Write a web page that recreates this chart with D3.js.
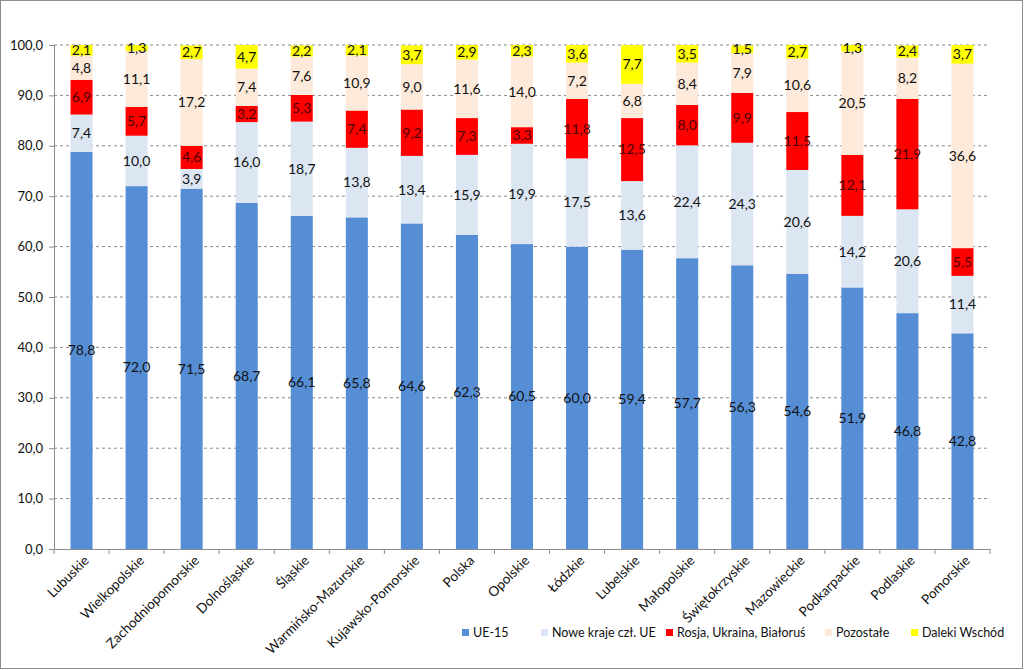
<!DOCTYPE html>
<html>
<head>
<meta charset="utf-8">
<script src="https://cdn.jsdelivr.net/npm/d3@7"></script>
<style>
  body { margin: 0; background: #fff; }
  svg { font-family: Lato, "Open Sans", sans-serif; }
</style>
</head>
<body>
<svg id="chart"></svg>
<script>
const categories = ['Lubuskie', 'Wielkopolskie', 'Zachodniopomorskie', 'Dolnośląskie', 'Śląskie',
  'Warmińsko-Mazurskie', 'Kujawsko-Pomorskie', 'Polska', 'Opolskie', 'Łódzkie', 'Lubelskie',
  'Małopolskie', 'Świętokrzyskie', 'Mazowieckie', 'Podkarpackie', 'Podlaskie', 'Pomorskie'];

const ue15 = [78.8, 72.0, 71.5, 68.7, 66.1, 65.8, 64.6, 62.3, 60.5, 60.0, 59.4, 57.7, 56.3, 54.6, 51.9, 46.8, 42.8];
const noweKraje = [7.4, 10.0, 3.9, 16.0, 18.7, 13.8, 13.4, 15.9, 19.9, 17.5, 13.6, 22.4, 24.3, 20.6, 14.2, 20.6, 11.4];
const rosja = [6.9, 5.7, 4.6, 3.2, 5.3, 7.4, 9.2, 7.3, 3.3, 11.8, 12.5, 8.0, 9.9, 11.5, 12.1, 21.9, 5.5];
const pozostale = [4.8, 11.1, 17.2, 7.4, 7.6, 10.9, 9.0, 11.6, 14.0, 7.2, 6.8, 8.4, 7.9, 10.6, 20.5, 8.2, 36.6];
const dalekiWschod = [2.1, 1.3, 2.7, 4.7, 2.2, 2.1, 3.7, 2.9, 2.3, 3.6, 7.7, 3.5, 1.5, 2.7, 1.3, 2.4, 3.7];

const seriesNames = ['UE-15', 'Nowe kraje czł. UE', 'Rosja, Ukraina, Białoruś', 'Pozostałe', 'Daleki Wschód'];
const yTicks = [0, 10, 20, 30, 40, 50, 60, 70, 80, 90, 100];

const seriesValues = [ue15, noweKraje, rosja, pozostale, dalekiWschod];
const colors = ['#558ed5', '#dce6f2', '#ff0000', '#fdeada', '#ffff00'];

const width = 1024, height = 670;
const margin = { left: 54, right: 34, top: 45, bottom: 121 };

const svg = d3.select('#chart').attr('width', width).attr('height', height);

// outer frame
svg.append('rect')
  .attr('x', 0.5).attr('y', 0.5)
  .attr('width', width - 2).attr('height', height - 2)
  .attr('fill', '#fff').attr('stroke', '#8c8c8c');

const x = d3.scaleBand()
  .domain(categories)
  .range([margin.left, width - margin.right])
  .paddingInner(0.6)
  .paddingOuter(0.3);

const y = d3.scaleLinear()
  .domain([0, 100])
  .range([height - margin.bottom, margin.top]);

// gridlines
svg.append('g')
  .selectAll('line')
  .data(yTicks.filter(d => d > 0))
  .enter()
  .append('line')
  .attr('x1', margin.left).attr('x2', width - margin.right)
  .attr('y1', d => y(d)).attr('y2', d => y(d))
  .attr('stroke', '#8a8a8a')
  .attr('stroke-dasharray', '3,3');

// stacked data
const rows = categories.map((c, i) => {
  const r = { cat: c };
  seriesNames.forEach((s, k) => { r[s] = seriesValues[k][i]; });
  return r;
});
const stack = d3.stack().keys(seriesNames)(rows);

const layers = svg.append('g')
  .selectAll('g')
  .data(stack)
  .enter()
  .append('g')
  .attr('fill', (d, i) => colors[i]);

layers.selectAll('rect')
  .data(d => d)
  .enter()
  .append('rect')
  .attr('x', d => x(d.data.cat))
  .attr('width', x.bandwidth())
  .attr('y', d => y(Math.min(d[1], 100)))
  .attr('height', d => y(d[0]) - y(Math.min(d[1], 100)));

// value labels
const fmt = v => d3.format('.1f')(v).replace('.', ',');
stack.forEach((layer, k) => {
  svg.append('g')
    .selectAll('text')
    .data(layer)
    .enter()
    .append('text')
    .attr('x', d => x(d.data.cat) + x.bandwidth() / 2)
    .attr('y', d => y((d[0] + Math.min(d[1], 100)) / 2))
    .attr('dy', '0.35em')
    .attr('text-anchor', 'middle')
    .style('font-size', '14px')
    .style('fill', k === 2 ? '#4a0000' : '#111')
    .text(d => fmt(d.data[layer.key]));
});

// y axis
const yAxis = svg.append('g')
  .attr('transform', `translate(${margin.left},0)`)
  .call(d3.axisLeft(y).tickValues(yTicks).tickSize(5).tickFormat(d => fmt(d)));
yAxis.select('.domain').attr('stroke', '#8c8c8c');
yAxis.selectAll('.tick line').attr('stroke', '#8c8c8c');
yAxis.selectAll('.tick text')
  .attr('x', -11)
  .style('font-size', '13px')
  .style('font-family', 'Lato, sans-serif')
  .attr('fill', '#111');

// x axis
const xAxis = svg.append('g')
  .attr('transform', `translate(0,${height - margin.bottom})`)
  .call(d3.axisBottom(x).tickSize(0));
xAxis.select('.domain').attr('stroke', '#8c8c8c');
xAxis.selectAll('.tick text')
  .attr('x', 0).attr('y', 0).attr('dy', '0.35em')
  .attr('transform', 'translate(5,9) rotate(-45)')
  .attr('text-anchor', 'end')
  .style('font-size', '13.5px')
  .style('font-family', 'Lato, sans-serif')
  .attr('fill', '#111');

// category boundary ticks
const step = x.step();
const bounds = d3.range(categories.length + 1).map(i => x.range()[0] + i * step);
xAxis.append('g')
  .selectAll('line')
  .data(bounds)
  .enter()
  .append('line')
  .attr('x1', d => d).attr('x2', d => d)
  .attr('y1', 0).attr('y2', 5)
  .attr('stroke', '#8c8c8c');

// legend
const legendX = [462, 541, 666, 825, 911];
const legend = svg.append('g')
  .selectAll('g')
  .data(seriesNames)
  .enter()
  .append('g')
  .attr('transform', (d, i) => `translate(${legendX[i]}, 633)`);

legend.append('rect')
  .attr('x', 0).attr('y', -4)
  .attr('width', 7).attr('height', 7)
  .attr('fill', (d, i) => colors[i]);

legend.append('text')
  .attr('x', 11).attr('y', 0)
  .attr('dy', '0.35em')
  .text(d => d)
  .style('font-size', '12.5px')
  .attr('fill', '#111');
</script>
</body>
</html>
